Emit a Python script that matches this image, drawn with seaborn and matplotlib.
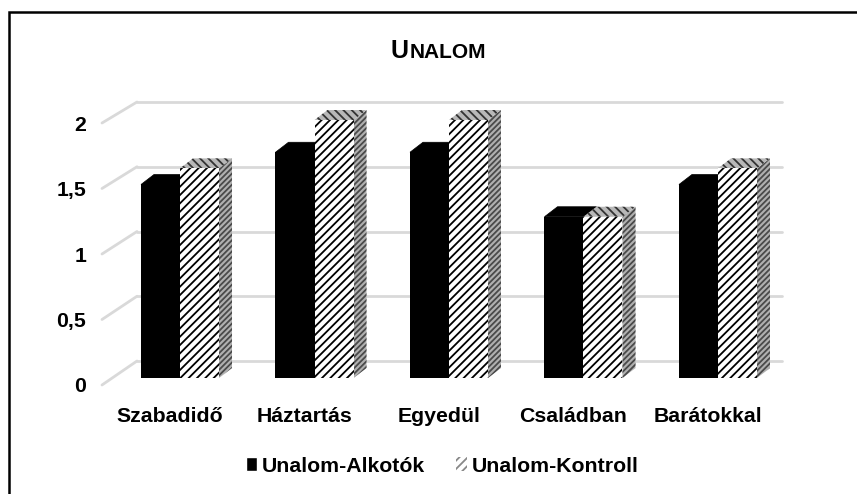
import matplotlib
matplotlib.use("Agg")
import matplotlib.pyplot as plt
import pandas as pd
import seaborn as sns
from matplotlib.patches import ConnectionPatch, Polygon, Rectangle
from matplotlib.transforms import Affine2D

categories = ["Szabadidő", "Háztartás", "Egyedül", "Családban", "Barátokkal"]
alkotok = [1.5, 1.75, 1.75, 1.25, 1.5]
kontroll = [1.625, 2, 2, 1.25, 1.625]
series_names = ["Unalom-Alkotók", "Unalom-Kontroll"]
y_ticks = [0, 0.5, 1, 1.5, 2]
y_labels = ["0", "0,5", "1", "1,5", "2"]

W, H = 857, 494
DEPTH = (13, 10)
FONT = 15.3


def px_axes(fig, left, right, top, bottom, **kw):
    return fig.add_axes([left / W, 1 - bottom / H, (right - left) / W, (bottom - top) / H], **kw)


sns.set_theme(style="white")
plt.rcParams["font.family"] = ["Liberation Sans", "DejaVu Sans"]
plt.rcParams["font.weight"] = "bold"
plt.rcParams["hatch.linewidth"] = 1.3

df = pd.DataFrame({
    "cat": categories * 2,
    "series": [series_names[0]] * 5 + [series_names[1]] * 5,
    "value": alkotok + kontroll,
})

fig = plt.figure(figsize=(W / 100, H / 100), dpi=100, facecolor="white")
fig.add_artist(Rectangle((8.5 / W, -0.01), 860 / W, 1 - 12 / H + 0.01, transform=fig.transFigure,
                         fill=False, edgecolor="black", linewidth=1.8))

# wall ticks (front edge) and back grid are separate axes under the bars
wall = px_axes(fig, 102, 137, 123, 385, facecolor="none")
back = px_axes(fig, 137, 782, 102, 361, facecolor="none")
for a in (wall, back):
    a.set_ylim(0, 2)
    a.set_xlim(0, 1)
    a.set_xticks([])
    sns.despine(ax=a, left=True, bottom=True)
back.set_yticks(y_ticks)
back.set_yticklabels([])
back.tick_params(left=False)
back.grid(axis="y", color="#d9d9d9", linewidth=2)
for line in back.get_ygridlines():
    line.set_clip_on(False)
wall.set_yticks(y_ticks)
wall.set_yticklabels(y_labels, fontsize=FONT, fontweight="bold", color="black")
wall.tick_params(left=False, pad=5.5)
for v in y_ticks:
    fig.add_artist(ConnectionPatch((0, v), (0, v), "data", "data", axesA=wall, axesB=back,
                                   color="#d9d9d9", linewidth=2))

ax = px_axes(fig, 102, 782, 120, 378, facecolor="none")
sns.barplot(data=df, x="cat", y="value", hue="series", hue_order=series_names, ax=ax,
            palette=["black", "white"], width=0.58, gap=0, saturation=1, legend=False, errorbar=None)
ax.set_xlim(-0.58, 4.476)
ax.set_ylim(0, 2)
ax.set_xlabel("")
ax.set_ylabel("")
ax.set_yticks([])
sns.despine(ax=ax, left=True, bottom=True)
ax.tick_params(axis="x", bottom=False, pad=15)
for lab in ax.get_xticklabels():
    lab.set_fontsize(FONT)
    lab.set_fontweight("bold")
    lab.set_color("black")
    lab.set_transform(lab.get_transform() + Affine2D().translate(-10, 0))

black_bars = ax.containers[0]
hatch_bars = ax.containers[1]
for bar in black_bars:
    bar.set_linewidth(0)
for bar in hatch_bars:
    bar.set_hatch("////")
    bar.set_edgecolor("black")
    bar.set_linewidth(0)

to_px = ax.transData


def top_face(bar):
    x0, x1 = bar.get_x(), bar.get_x() + bar.get_width()
    h = bar.get_height()
    (ax0, ay), (ax1, _) = to_px.transform([(x0, h), (x1, h)])
    return [(ax0, ay), (ax1, ay), (ax1 + DEPTH[0], ay + DEPTH[1]), (ax0 + DEPTH[0], ay + DEPTH[1])]


def side_face(bar):
    x1 = bar.get_x() + bar.get_width()
    h = bar.get_height()
    (px, py1), (_, py0) = to_px.transform([(x1, h), (x1, 0)])
    return [(px, py0), (px, py1), (px + DEPTH[0], py1 + DEPTH[1]), (px + DEPTH[0], py0 + DEPTH[1])]


# faces go behind the front bars so the hatched bar hides the end of the black top
for bar in black_bars:
    ax.add_patch(Polygon(top_face(bar), transform=None, facecolor="black", edgecolor="black",
                         linewidth=0.5, zorder=0.5, clip_on=False))
for bar in hatch_bars:
    ax.add_patch(Polygon(side_face(bar), transform=None, facecolor="#b0b0b0", edgecolor="#4a4a4a",
                         hatch="//////", linewidth=0, zorder=0.6, clip_on=False))
    ax.add_patch(Polygon(top_face(bar), transform=None, facecolor="#b8b8b8", edgecolor="#333333",
                         hatch="\\\\\\\\", linewidth=0, zorder=0.6, clip_on=False))

handles = [Rectangle((0, 0), 1, 1, facecolor="black"),
           Rectangle((0, 0), 1, 1, facecolor="white", edgecolor="#888888", hatch="////", linewidth=0)]
fig.legend(handles, series_names, loc="center", bbox_to_anchor=(442.5 / W, 1 - 466 / H), ncols=2, frameon=False,
           prop={"size": FONT, "weight": "bold"}, handlelength=0.52, handleheight=0.6, handletextpad=0.23,
           columnspacing=1.45, labelcolor="black", borderpad=0)

first = fig.text(391 / W, 1 - 58 / H, "U", fontsize=18, fontweight="bold", color="black", ha="left", va="baseline")
fig.canvas.draw()
end_u = first.get_window_extent().x1
fig.text((end_u + 1) / W, 1 - 58 / H, "NALOM", fontsize=15, fontweight="bold", color="black", ha="left", va="baseline")

fig.savefig("out.png", dpi=100)
